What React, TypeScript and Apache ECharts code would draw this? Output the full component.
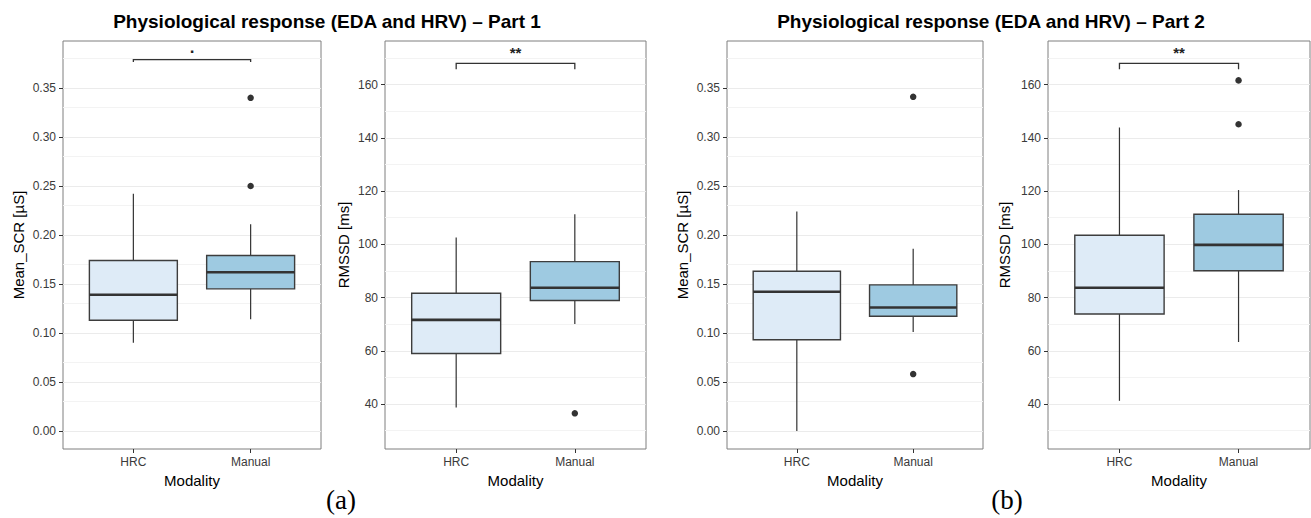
import React, { useEffect, useRef } from "react";
import * as echarts from "echarts";

const FONT = "'Liberation Sans', Arial, Helvetica, sans-serif";

const modalities = ["HRC", "Manual"];
const figureTitles = [
  "Physiological response (EDA and HRV) – Part 1",
  "Physiological response (EDA and HRV) – Part 2",
];
const figureTags = ["(a)", "(b)"];

// Five-number summaries: [lower whisker, Q1, median, Q3, upper whisker]
const scrPart1HRC = [0.09, 0.113, 0.139, 0.174, 0.242];
const scrPart1Manual = [0.114, 0.145, 0.162, 0.179, 0.211];
const scrPart1Outliers = [[2, 0.34], [2, 0.25]];

const rmssdPart1HRC = [38.7, 59.0, 71.6, 81.6, 102.6];
const rmssdPart1Manual = [70.1, 78.9, 83.7, 93.5, 111.3];
const rmssdPart1Outliers = [[2, 36.5]];

const scrPart2HRC = [0.0, 0.093, 0.142, 0.163, 0.224];
const scrPart2Manual = [0.101, 0.117, 0.126, 0.149, 0.186];
const scrPart2Outliers = [[2, 0.341], [2, 0.058]];

const rmssdPart2HRC = [41.2, 73.8, 83.7, 103.4, 143.9];
const rmssdPart2Manual = [63.3, 90.1, 99.8, 111.3, 120.4];
const rmssdPart2Outliers = [[2, 161.6], [2, 145.1]];

// Significance annotations: [bar height, tip end, label]
const scrPart1Signif = [0.379, 0.3765, "."];
const rmssdPart1Signif = [168, 165.8, "**"];
const rmssdPart2Signif = [168, 165.8, "**"];

// Axis ticks and grid lines
const scrTicks = [0, 0.05, 0.1, 0.15, 0.2, 0.25, 0.3, 0.35];
const scrMinor = [0.025, 0.075, 0.125, 0.175, 0.225, 0.275, 0.325, 0.375];
const rmssdTicks = [40, 60, 80, 100, 120, 140, 160];
const rmssdMinor = [30, 50, 70, 90, 110, 130, 150, 170];

const scrRange = [-0.0185, 0.398];
const rmssdRange = [23.1, 176.4];

const boxFills = ["#deebf7", "#9ecae1"];
const BOX_WIDTH = 0.75;

type Panel = {
  left: number;
  width: number;
  yName: string;
  nameGap: number;
  range: number[];
  ticks: number[];
  minor: number[];
  decimals: number;
  hrc: number[];
  manual: number[];
  outliers: number[][];
  signif: (number | string)[] | null;
};

const panels: Panel[] = [
  {
    left: 63, width: 258, yName: "Mean_SCR [µS]", nameGap: 37,
    range: scrRange, ticks: scrTicks, minor: scrMinor, decimals: 2,
    hrc: scrPart1HRC, manual: scrPart1Manual, outliers: scrPart1Outliers, signif: scrPart1Signif,
  },
  {
    left: 385, width: 261, yName: "RMSSD [ms]", nameGap: 34,
    range: rmssdRange, ticks: rmssdTicks, minor: rmssdMinor, decimals: 0,
    hrc: rmssdPart1HRC, manual: rmssdPart1Manual, outliers: rmssdPart1Outliers, signif: rmssdPart1Signif,
  },
  {
    left: 727, width: 256, yName: "Mean_SCR [µS]", nameGap: 37,
    range: scrRange, ticks: scrTicks, minor: scrMinor, decimals: 2,
    hrc: scrPart2HRC, manual: scrPart2Manual, outliers: scrPart2Outliers, signif: null,
  },
  {
    left: 1048, width: 262, yName: "RMSSD [ms]", nameGap: 36,
    range: rmssdRange, ticks: rmssdTicks, minor: rmssdMinor, decimals: 0,
    hrc: rmssdPart2HRC, manual: rmssdPart2Manual, outliers: rmssdPart2Outliers, signif: rmssdPart2Signif,
  },
];

const GRID_TOP = 41;
const GRID_HEIGHT = 408;

function renderBox(params: any, api: any) {
  const x = api.value(0);
  const pMin = api.coord([x, api.value(1)]);
  const pQ1 = api.coord([x, api.value(2)]);
  const pMed = api.coord([x, api.value(3)]);
  const pQ3 = api.coord([x, api.value(4)]);
  const pMax = api.coord([x, api.value(5)]);
  const half = api.size([BOX_WIDTH, 0])[0] / 2;
  const fill = boxFills[api.value(6)];
  const whisker = { stroke: "#333333", lineWidth: 1.2 };
  return {
    type: "group",
    children: [
      { type: "line", shape: { x1: pMax[0], y1: pMax[1], x2: pQ3[0], y2: pQ3[1] }, style: whisker },
      { type: "line", shape: { x1: pMin[0], y1: pMin[1], x2: pQ1[0], y2: pQ1[1] }, style: whisker },
      {
        type: "rect",
        shape: { x: pQ3[0] - half, y: pQ3[1], width: half * 2, height: pQ1[1] - pQ3[1] },
        style: { fill, stroke: "#3d3d3d", lineWidth: 1.4 },
      },
      {
        type: "line",
        shape: { x1: pMed[0] - half, y1: pMed[1], x2: pMed[0] + half, y2: pMed[1] },
        style: { stroke: "#333333", lineWidth: 2.6 },
      },
    ],
  };
}

function renderSignif(params: any, api: any) {
  const x1 = api.value(0);
  const x2 = api.value(1);
  const a = api.coord([x1, api.value(2)]);
  const b = api.coord([x2, api.value(2)]);
  const aTip = api.coord([x1, api.value(3)]);
  const bTip = api.coord([x2, api.value(3)]);
  const label = String(api.value(4));
  const isDot = label === ".";
  return {
    type: "group",
    children: [
      {
        type: "polyline",
        shape: { points: [aTip, a, b, bTip] },
        style: { stroke: "#333333", lineWidth: 1.3, fill: "none" },
      },
      {
        type: "text",
        x: (a[0] + b[0]) / 2,
        y: a[1] - (isDot ? 4 : 3),
        style: {
          text: label,
          textAlign: "center",
          textVerticalAlign: "bottom",
          font: `bold ${isDot ? 17 : 15}px ${FONT}`,
          fill: "#222222",
        },
      },
    ],
  };
}

function buildOption() {
  const grid: any[] = [];
  const xAxis: any[] = [];
  const yAxis: any[] = [];
  const series: any[] = [];

  panels.forEach((p, i) => {
    grid.push({
      left: p.left,
      top: GRID_TOP,
      width: p.width,
      height: GRID_HEIGHT,
      show: true,
      borderColor: "#7f7f7f",
      borderWidth: 1,
      backgroundColor: "transparent",
      z: 0,
    });
    xAxis.push({
      type: "value",
      gridIndex: i,
      min: 0.4,
      max: 2.6,
      name: "Modality",
      nameLocation: "middle",
      nameGap: 22,
      nameTextStyle: { fontSize: 15, color: "#000", fontFamily: FONT },
      axisLine: { show: false, onZero: false },
      axisTick: { show: true, length: 4, lineStyle: { color: "#333" }, customValues: [1, 2] },
      axisLabel: {
        customValues: [1, 2],
        formatter: (v: number) => modalities[Math.round(v) - 1] ?? "",
        fontSize: 12,
        color: "#3a3a3a",
        fontFamily: FONT,
        margin: 7,
      },
      splitLine: { show: false },
    });
    yAxis.push({
      type: "value",
      gridIndex: i,
      min: p.range[0],
      max: p.range[1],
      name: p.yName,
      nameLocation: "middle",
      nameGap: p.nameGap,
      nameRotate: 90,
      nameTextStyle: { fontSize: 15, color: "#000", fontFamily: FONT },
      axisLine: { show: false, onZero: false },
      axisTick: { show: true, length: 4, lineStyle: { color: "#333" }, customValues: p.ticks },
      axisLabel: {
        customValues: p.ticks,
        formatter: (v: number) => v.toFixed(p.decimals),
        fontSize: 12,
        color: "#3a3a3a",
        fontFamily: FONT,
        margin: 7,
      },
      splitLine: { show: false },
    });

    // grid lines, kept underneath the boxes
    series.push({
      type: "line",
      xAxisIndex: i,
      yAxisIndex: i,
      data: [],
      silent: true,
      z: 1,
      zlevel: 0,
      markLine: {
        silent: true,
        z: 1,
        symbol: ["none", "none"],
        label: { show: false },
        emphasis: { disabled: true },
        data: [
          ...p.minor
            .filter((v) => v > p.range[0] && v < p.range[1])
            .map((v) => ({ yAxis: v, lineStyle: { color: "#f3f3f3", width: 1, type: "solid" } })),
          ...p.ticks.map((v) => ({ yAxis: v, lineStyle: { color: "#ebebeb", width: 1.2, type: "solid" } })),
        ],
      },
    });

    // boxes
    series.push({
      type: "custom",
      xAxisIndex: i,
      yAxisIndex: i,
      z: 6,
      silent: true,
      renderItem: renderBox,
      encode: { x: 0, y: [1, 2, 3, 4, 5] },
      data: [
        [1, ...p.hrc, 0],
        [2, ...p.manual, 1],
      ],
    });

    // outliers
    series.push({
      type: "scatter",
      xAxisIndex: i,
      yAxisIndex: i,
      z: 7,
      silent: true,
      symbol: "circle",
      symbolSize: 6.5,
      itemStyle: { color: "#333333", opacity: 1 },
      data: p.outliers,
    });

    if (p.signif) {
      series.push({
        type: "custom",
        xAxisIndex: i,
        yAxisIndex: i,
        z: 7,
        silent: true,
        renderItem: renderSignif,
        encode: { x: [0, 1], y: [2, 3] },
        data: [[1, 2, p.signif[0], p.signif[1], p.signif[2]]],
      });
    }
  });

  const titleStyle = (text: string) => ({
    text,
    textAlign: "center",
    textVerticalAlign: "middle",
    font: `bold 19px ${FONT}`,
    fill: "#000",
  });
  const tagStyle = (text: string) => ({
    text,
    textAlign: "center",
    textVerticalAlign: "middle",
    font: `27px 'Liberation Serif', 'Times New Roman', serif`,
    fill: "#000",
  });

  const graphic: any[] = [
    { type: "text", x: 327, y: 21, style: titleStyle(figureTitles[0]) },
    { type: "text", x: 991, y: 21, style: titleStyle(figureTitles[1]) },
    { type: "text", x: 341, y: 500, style: tagStyle(figureTags[0]) },
    { type: "text", x: 1007, y: 500, style: tagStyle(figureTags[1]) },
  ];

  return {
    animation: false,
    backgroundColor: "#ffffff",
    textStyle: { fontFamily: FONT },
    grid,
    xAxis,
    yAxis,
    series,
    graphic,
  };
}

export default function App() {
  const ref = useRef<HTMLDivElement>(null);
  useEffect(() => {
    if (!ref.current) return;
    const chart = echarts.init(ref.current, undefined, { renderer: "svg" });
    chart.setOption(buildOption() as any);
    return () => chart.dispose();
  }, []);
  return (
    <div
      ref={ref}
      style={{ position: "fixed", left: 0, top: 0, width: 1311, height: 518, background: "#fff" }}
    />
  );
}
